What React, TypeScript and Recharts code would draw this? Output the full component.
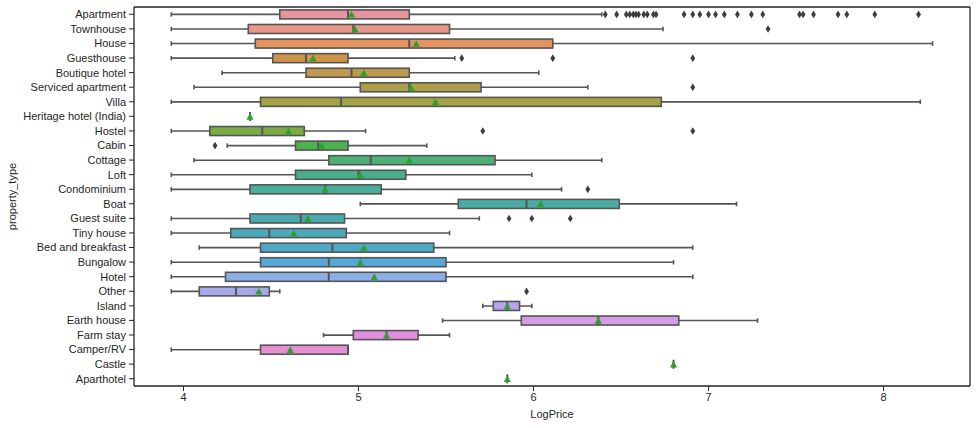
import { ComposedChart, Bar, XAxis, YAxis } from 'recharts';

const categories = [
  'Apartment', 'Townhouse', 'House', 'Guesthouse', 'Boutique hotel', 'Serviced apartment',
  'Villa', 'Heritage hotel (India)', 'Hostel', 'Cabin', 'Cottage', 'Loft', 'Condominium',
  'Boat', 'Guest suite', 'Tiny house', 'Bed and breakfast', 'Bungalow', 'Hotel', 'Other',
  'Island', 'Earth house', 'Farm stay', 'Camper/RV', 'Castle', 'Aparthotel',
];

const whiskerLow = [3.93, 3.93, 3.93, 3.93, 4.22, 4.06, 3.93, 4.38, 3.93, 4.25, 4.06, 3.93, 3.93,
  5.01, 3.93, 3.93, 4.09, 3.93, 3.93, 3.93, 5.71, 5.48, 4.8, 3.93, 6.8, 5.85];
const q1 = [4.55, 4.37, 4.41, 4.51, 4.7, 5.01, 4.44, 4.38, 4.15, 4.64, 4.83, 4.64, 4.38,
  5.57, 4.38, 4.27, 4.44, 4.44, 4.24, 4.09, 5.77, 5.93, 4.97, 4.44, 6.8, 5.85];
const median = [4.94, 4.97, 5.29, 4.7, 4.96, 5.29, 4.9, 4.38, 4.45, 4.77, 5.07, 5.0, 4.81,
  5.96, 4.67, 4.49, 4.85, 4.83, 4.83, 4.3, 5.85, 6.37, 5.16, 4.94, 6.8, 5.85];
const q3 = [5.29, 5.52, 6.11, 4.94, 5.29, 5.7, 6.73, 4.38, 4.69, 4.94, 5.78, 5.27, 5.13,
  6.49, 4.92, 4.93, 5.43, 5.5, 5.5, 4.49, 5.92, 6.83, 5.34, 4.94, 6.8, 5.85];
const whiskerHigh = [6.39, 6.74, 8.28, 5.55, 6.03, 6.31, 8.21, 4.38, 5.04, 5.39, 6.39, 5.99, 6.16,
  7.16, 5.69, 5.52, 6.91, 6.8, 6.91, 4.55, 5.99, 7.28, 5.52, 4.94, 6.8, 5.85];
const means = [4.96, 4.98, 5.33, 4.74, 5.03, 5.3, 5.44, 4.38, 4.6, 4.79, 5.29, 5.01, 4.81,
  6.04, 4.71, 4.63, 5.03, 5.01, 5.09, 4.43, 5.85, 6.37, 5.16, 4.61, 6.8, 5.85];
const outliers: number[][] = [
  [6.41, 6.475, 6.53, 6.55, 6.57, 6.585, 6.6, 6.63, 6.65, 6.685, 6.7, 6.86, 6.91, 6.95, 7.0,
    7.04, 7.09, 7.165, 7.245, 7.31, 7.52, 7.54, 7.6, 7.74, 7.79, 7.95, 8.2],
  [7.34], [], [5.59, 6.11, 6.91], [], [6.91], [], [], [5.71, 6.91], [4.18], [], [], [6.31],
  [], [5.86, 5.99, 6.21], [], [], [], [], [5.96], [], [], [], [], [], [],
];

const colors = ['#e8949e', '#e8978a', '#e39360', '#d0934a', '#bf9a4e', '#ad9f4a', '#a4a244',
  '#97a842', '#7aab45', '#4bb24e', '#4bb177', '#49ae8c', '#49ad9a', '#48aca4', '#4aabaf',
  '#4baabb', '#4da9c8', '#56a8dc', '#8baee6', '#a5aaea', '#b9a2ea', '#d49ce6', '#e48ce0',
  '#e68fd0', '#e592c0', '#e794b0'];

const xTicks = [4, 5, 6, 7, 8];
const xDomain: [number, number] = [3.717, 8.494];

const GRAY = '#555555';
const AXIS = '#262626';

const rows = categories.map((name, i) => {
  const pts = [means[i], ...outliers[i]];
  return {
    name,
    whisker: [whiskerLow[i], whiskerHigh[i]],
    box: [q1[i], q3[i]],
    pts: [Math.min(...pts), Math.max(...pts)],
  };
});

function CategoryTick(props: any) {
  const { x, y, payload } = props;
  return (
    <text x={x} y={y} dy="0.355em" textAnchor="end" fill={AXIS} fontSize={11}>
      {payload.value}
    </text>
  );
}

function WhiskerShape(props: any) {
  const { x, y, width, height } = props;
  if (!width || width < 0.5) return <g />;
  const cy = y + height / 2;
  const cap = height * 0.25;
  return (
    <g stroke={GRAY} strokeWidth={1.6}>
      <line x1={x} x2={x + width} y1={cy} y2={cy} />
      <line x1={x} x2={x} y1={cy - cap} y2={cy + cap} />
      <line x1={x + width} x2={x + width} y1={cy - cap} y2={cy + cap} />
    </g>
  );
}

function BoxShape(props: any) {
  const { x, y, width, height, index } = props;
  if (!width || width < 0.5) {
    return <line x1={x} x2={x} y1={y} y2={y + height} stroke={GRAY} strokeWidth={2} />;
  }
  const mx = x + ((median[index] - q1[index]) / (q3[index] - q1[index])) * width;
  return (
    <g>
      <rect x={x} y={y} width={width} height={height} fill={colors[index]} stroke={GRAY} strokeWidth={1.6} />
      <line x1={mx} x2={mx} y1={y} y2={y + height} stroke={GRAY} strokeWidth={2} />
    </g>
  );
}

function PointsShape(props: any) {
  const { x, y, width, height, index } = props;
  const [lo, hi] = rows[index].pts;
  const px = (v: number) => (hi > lo ? x + ((v - lo) / (hi - lo)) * width : x);
  const cy = y + height / 2;
  const mx = px(means[index]);
  return (
    <g>
      {outliers[index].map((v, k) => {
        const ox = px(v);
        return (
          <polygon
            key={k}
            points={`${ox},${cy - 3.8} ${ox + 2.4},${cy} ${ox},${cy + 3.8} ${ox - 2.4},${cy}`}
            fill="#3d3d3d"
          />
        );
      })}
      <polygon points={`${mx - 3.6},${cy + 3.2} ${mx + 3.6},${cy + 3.2} ${mx},${cy - 3.4}`} fill="#2ca02c" />
    </g>
  );
}

export default function App() {
  return (
    <div style={{ position: 'absolute', left: 0, top: 0, fontFamily: '"Liberation Sans", Arial, sans-serif' }}>
      <ComposedChart
        width={977}
        height={428}
        data={rows}
        layout="vertical"
        barCategoryGap="20%"
        margin={{ top: 6, right: 6, left: 0, bottom: 0 }}
      >
        <XAxis
          type="number"
          domain={xDomain}
          ticks={xTicks}
          allowDataOverflow
          height={42}
          tickSize={5}
          tick={{ fill: AXIS, fontSize: 11 }}
          axisLine={{ stroke: AXIS, strokeWidth: 1.3 }}
          tickLine={{ stroke: AXIS }}
          label={{ value: 'LogPrice', position: 'insideBottom', offset: 10, fill: AXIS, fontSize: 11 }}
        />
        <XAxis
          xAxisId="frame"
          orientation="top"
          type="number"
          domain={xDomain}
          ticks={xTicks}
          allowDataOverflow
          height={1}
          tick={false}
          tickLine={false}
          axisLine={{ stroke: AXIS, strokeWidth: 1.3 }}
        />
        <YAxis
          type="category"
          dataKey="name"
          width={134}
          interval={0}
          tickSize={5}
          tickMargin={3}
          tick={<CategoryTick />}
          axisLine={{ stroke: AXIS, strokeWidth: 1.3 }}
          tickLine={{ stroke: AXIS }}
          label={{ value: 'property_type', angle: -90, position: 'insideLeft', offset: 12, fill: AXIS, fontSize: 11, style: { textAnchor: 'middle' } }}
        />
        <YAxis
          yAxisId="frame"
          orientation="right"
          type="category"
          dataKey="name"
          width={1}
          tick={false}
          tickLine={false}
          axisLine={{ stroke: AXIS, strokeWidth: 1.3 }}
        />
        <YAxis yAxisId="box" type="category" dataKey="name" hide />
        <Bar dataKey="whisker" shape={<WhiskerShape />} isAnimationActive={false} />
        <Bar dataKey="box" yAxisId="box" shape={<BoxShape />} isAnimationActive={false} />
        <Bar dataKey="pts" xAxisId="frame" yAxisId="frame" shape={<PointsShape />} isAnimationActive={false} />
      </ComposedChart>
    </div>
  );
}
